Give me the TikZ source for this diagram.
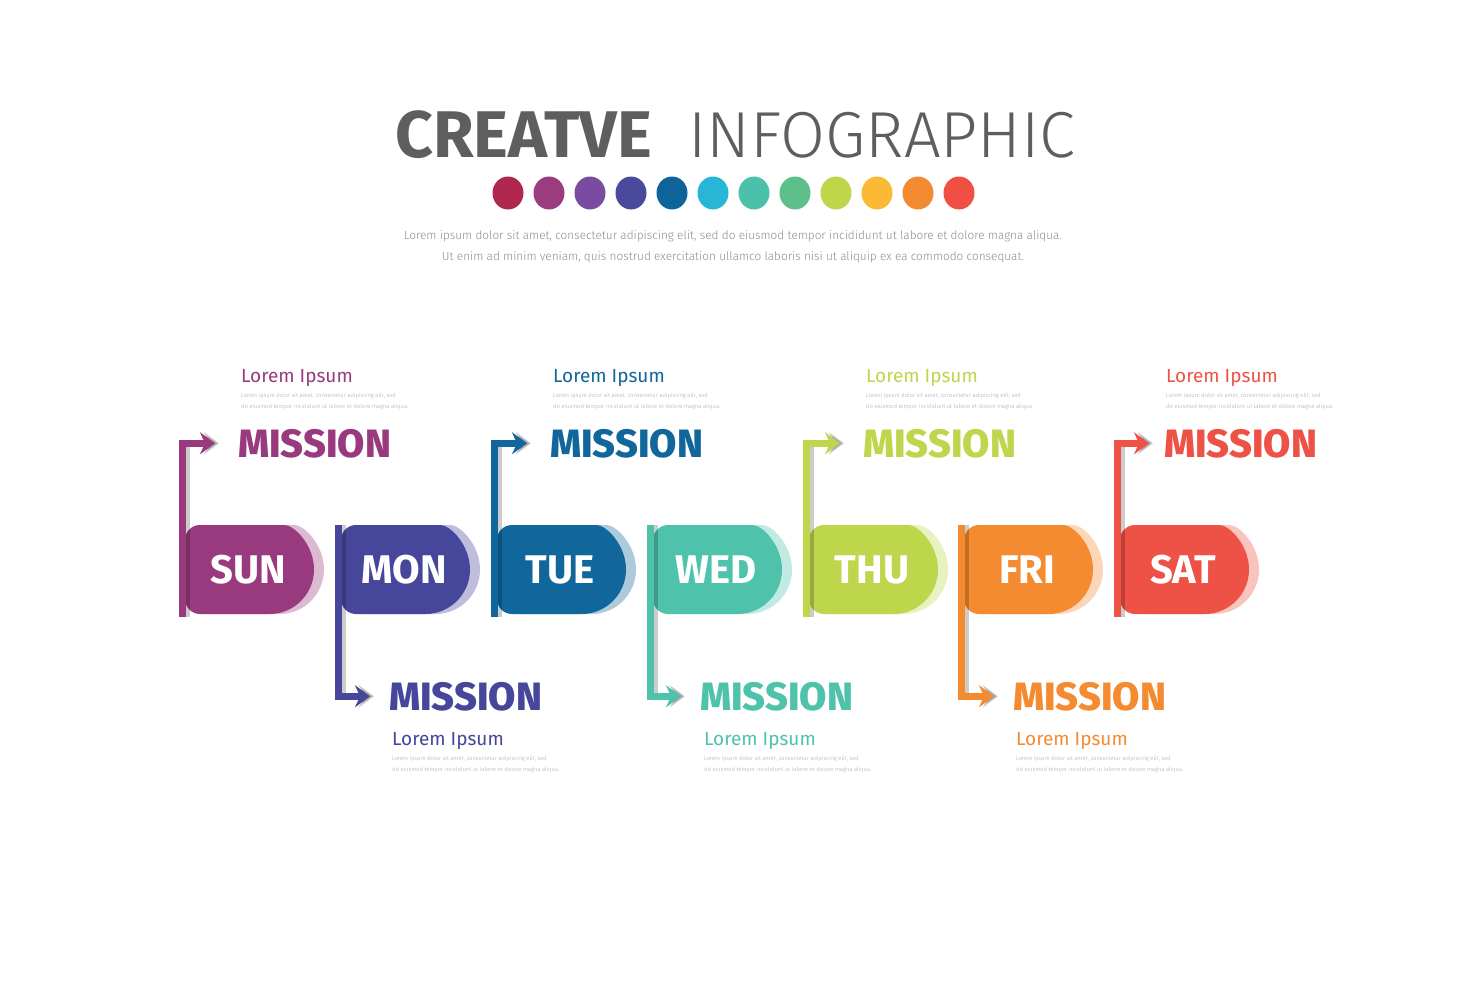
\documentclass[tikz,border=0pt]{standalone}
\usepackage{fontspec}
\setmainfont{Fira Sans}
\newfontfamily\lightfont{Fira Sans Light}
\newfontfamily\heavyfont{Fira Sans ExtraBold}
\usetikzlibrary{arrows.meta,positioning}

\definecolor{titlegray}{HTML}{5E5E5E}
\definecolor{lorgray}{HTML}{8C8C8C}
\definecolor{tinygray}{HTML}{A8A8A8}
\definecolor{dotA}{HTML}{B0274F}
\definecolor{dotB}{HTML}{9B3C7E}
\definecolor{dotC}{HTML}{7A4BA0}
\definecolor{dotD}{HTML}{494A9C}
\definecolor{dotE}{HTML}{0E6399}
\definecolor{dotF}{HTML}{27B6D6}
\definecolor{dotG}{HTML}{4CC1A9}
\definecolor{dotH}{HTML}{5DBF8A}
\definecolor{dotI}{HTML}{BFD64B}
\definecolor{dotJ}{HTML}{FBBA34}
\definecolor{dotK}{HTML}{F28A31}
\definecolor{dotL}{HTML}{EF5043}
\definecolor{sunc}{HTML}{9A3A7E}
\definecolor{monc}{HTML}{46469A}
\definecolor{tuec}{HTML}{11679B}
\definecolor{wedc}{HTML}{4EC2AB}
\definecolor{thuc}{HTML}{BDD64B}
\definecolor{fric}{HTML}{F58B31}
\definecolor{satc}{HTML}{EE5246}

% pill behind a day: #1 = x of the bar, #2 = colour
\newcommand{\pill}[2]{%
  \fill[#2!35] (#1+97.5,525) arc[start angle=90,end angle=-90,radius=44.5pt] [rounded corners=15pt] -- (#1+13,614) -- (#1+13,525) -- cycle;
  \fill[#2] (#1+87.5,525) arc[start angle=90,end angle=-90,radius=44.5pt] [rounded corners=15pt] -- (#1+3,614) -- (#1+3,525) -- cycle;
}
\newcommand{\tinytext}{Lorem ipsum dolor sit amet, consectetur adipiscing elit, sed\\do eiusmod tempor incididunt ut labore et dolore magna aliqua.}

\begin{document}
\begin{tikzpicture}[x=1pt,y=-1pt,
    daylabel/.style = {text=white, font=\bfseries\fontsize{40}{40}\selectfont, inner sep=0pt},
    mission/.style = {font=\heavyfont\fontsize{39.5}{39.5}\selectfont, inner sep=0pt, anchor=base west},
    heading/.style = {font=\fontsize{19}{19}\selectfont, inner sep=0pt, anchor=base west},
    smalltext/.style = {font=\lightfont\fontsize{5.8}{11}\selectfont, text=tinygray, align=left, inner sep=0pt, anchor=north west},
    arrowline/.style = {line width=7pt, -{Stealth[length=15pt,width=22pt,inset=5pt]}},
    arrowshadow/.style = {arrowline, black, opacity=0.2},
    ]
    \fill[white] (0,0) rectangle (1469,980);
    \useasboundingbox (0,0) rectangle (1469,980);

    % Title
    \node[anchor=base west, inner sep=0pt, text=titlegray, font=\bfseries\fontsize{66}{66}\selectfont] (title1) at (395,157) {CREATVE};
    \node[anchor=base west, inner sep=0pt, text=titlegray, font=\lightfont\fontsize{65}{65}\selectfont] (title2) at (688,157) {INFOGRAPHIC};
    \foreach \c [count=\i from 0] in {dotA,dotB,dotC,dotD,dotE,dotF,dotG,dotH,dotI,dotJ,dotK,dotL}
        \fill[\c] (508+41*\i,193) ellipse [x radius=15.5pt, y radius=16.5pt];
    \node[align=center, inner sep=0pt, text=lorgray, font=\lightfont\fontsize{11.8}{21}\selectfont, anchor=base] (intro) at (733,260)
        {Lorem ipsum dolor sit amet, consectetur adipiscing elit, sed do eiusmod tempor incididunt ut labore et dolore magna aliqua.\\
         Ut enim ad minim veniam, quis nostrud exercitation ullamco laboris nisi ut aliquip ex ea commodo consequat.};

    % Pills
    \pill{182}{sunc}
    \pill{338}{monc}
    \pill{494}{tuec}
    \pill{650}{wedc}
    \pill{806}{thuc}
    \pill{961}{fric}
    \pill{1117}{satc}
    \node[daylabel] (sun) at (248,569.5) {SUN};
    \node[daylabel] (mon) at (404,569.5) {MON};
    \node[daylabel] (tue) at (560,569.5) {TUE};
    \node[daylabel] (wed) at (716,569.5) {WED};
    \node[daylabel] (thu) at (872,569.5) {THU};
    \node[daylabel] (fri) at (1027,569.5) {FRI};
    \node[daylabel] (sat) at (1183,569.5) {SAT};

    % Missions above
    \node[mission, text=sunc] (sunmis) at (238,457) {MISSION};
    \node[heading, text=sunc] (sunhead) at (241,382) {Lorem Ipsum};
    \node[smalltext, below=7pt of sunhead.south west, anchor=north west] (suntext) {\tinytext};
    \node[mission, text=tuec] (tuemis) at (550,457) {MISSION};
    \node[heading, text=tuec] (tuehead) at (553,382) {Lorem Ipsum};
    \node[smalltext, below=7pt of tuehead.south west, anchor=north west] (tuetext) {\tinytext};
    \node[mission, text=thuc] (thumis) at (863,457) {MISSION};
    \node[heading, text=thuc] (thuhead) at (866,382) {Lorem Ipsum};
    \node[smalltext, below=7pt of thuhead.south west, anchor=north west] (thutext) {\tinytext};
    \node[mission, text=satc] (satmis) at (1164,457) {MISSION};
    \node[heading, text=satc] (sathead) at (1166,382) {Lorem Ipsum};
    \node[smalltext, below=7pt of sathead.south west, anchor=north west] (sattext) {\tinytext};

    % Missions below
    \node[mission, text=monc] (monmis) at (389,710) {MISSION};
    \node[heading, text=monc] (monhead) at (392,745) {Lorem Ipsum};
    \node[smalltext, below=7pt of monhead.south west, anchor=north west] (montext) {\tinytext};
    \node[mission, text=wedc] (wedmis) at (700,710) {MISSION};
    \node[heading, text=wedc] (wedhead) at (704,745) {Lorem Ipsum};
    \node[smalltext, below=7pt of wedhead.south west, anchor=north west] (wedtext) {\tinytext};
    \node[mission, text=fric] (frimis) at (1013,710) {MISSION};
    \node[heading, text=fric] (frihead) at (1016,745) {Lorem Ipsum};
    \node[smalltext, below=7pt of frihead.south west, anchor=north west] (fritext) {\tinytext};

    % Feet of the bars
    \coordinate (sunfoot) at (182,617);
    \coordinate (monfoot) at (338,525);
    \coordinate (tuefoot) at (494,617);
    \coordinate (wedfoot) at (650,525);
    \coordinate (thufoot) at (806,617);
    \coordinate (frifoot) at (961,525);
    \coordinate (satfoot) at (1117,617);

    % Draw
    \draw[arrowshadow, shorten >=23pt] ([xshift=4pt]sunfoot) |- ([xshift=4pt]sunmis.west);
    \draw[arrowline, sunc, shorten >=23pt] (sunfoot) |- (sunmis.west);
    \draw[arrowshadow, shorten >=19pt] ([xshift=4pt]monfoot) |- ([xshift=4pt]monmis.west);
    \draw[arrowline, monc, shorten >=19pt] (monfoot) |- (monmis.west);
    \draw[arrowshadow, shorten >=23pt] ([xshift=4pt]tuefoot) |- ([xshift=4pt]tuemis.west);
    \draw[arrowline, tuec, shorten >=23pt] (tuefoot) |- (tuemis.west);
    \draw[arrowshadow, shorten >=19pt] ([xshift=4pt]wedfoot) |- ([xshift=4pt]wedmis.west);
    \draw[arrowline, wedc, shorten >=19pt] (wedfoot) |- (wedmis.west);
    \draw[arrowshadow, shorten >=23pt] ([xshift=4pt]thufoot) |- ([xshift=4pt]thumis.west);
    \draw[arrowline, thuc, shorten >=23pt] (thufoot) |- (thumis.west);
    \draw[arrowshadow, shorten >=19pt] ([xshift=4pt]frifoot) |- ([xshift=4pt]frimis.west);
    \draw[arrowline, fric, shorten >=19pt] (frifoot) |- (frimis.west);
    \draw[arrowshadow, shorten >=15pt] ([xshift=4pt]satfoot) |- ([xshift=4pt]satmis.west);
    \draw[arrowline, satc, shorten >=15pt] (satfoot) |- (satmis.west);
\end{tikzpicture}
\end{document}
